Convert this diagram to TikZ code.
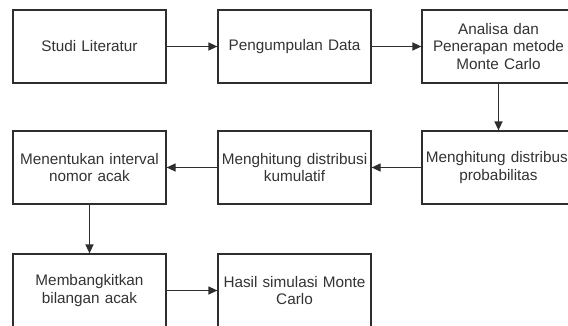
\documentclass[tikz,border=0pt]{standalone}
\usepackage{fontspec}
\setmainfont{Liberation Sans}
\usetikzlibrary{arrows.meta}
\definecolor{lineclr}{HTML}{2E2E2E}
\definecolor{txtclr}{HTML}{333333}
\tikzset{
  procbox/.style={draw=lineclr, line width=1.2pt, minimum width=153pt, minimum height=73pt,
    inner sep=1pt, align=center, text width=151pt, text=txtclr,
    font=\fontsize{15.3}{17.5}\selectfont},
  flow/.style={draw=lineclr, line width=1.2pt, -{Triangle[length=9pt,width=8pt]}}
}
\begin{document}
\begin{tikzpicture}[x=1pt,y=-1pt]
\useasboundingbox (0,0) rectangle (568,325);
\fill[white] (0,0) rectangle (568,325);
\clip (0,0) rectangle (568,325);
\node[procbox] (a) at (89.5,46.5) {Studi Literatur};
\node[procbox] (b) at (294.5,46.5) {Pengumpulan Data};
\node[procbox] (c) at (498.5,46.5) {Analisa dan\\Penerapan metode\\Monte Carlo};
\node[procbox] (d) at (498.5,167.5) {Menghitung distribusi\\probabilitas};
\node[procbox] (e) at (294.5,167.5) {Menghitung distribusi\\kumulatif};
\node[procbox] (f) at (89.5,167.5) {Menentukan interval\\nomor acak};
\node[procbox] (g) at (89.5,290.5) {Membangkitkan\\bilangan acak};
\node[procbox] (h) at (294.5,290.5) {Hasil simulasi Monte\\Carlo};
\draw[flow] (a) -- (b);
\draw[flow] (b) -- (c);
\draw[flow] (c) -- (d);
\draw[flow] (d) -- (e);
\draw[flow] (e) -- (f);
\draw[flow] (f) -- (g);
\draw[flow] (g) -- (h);
\end{tikzpicture}
\end{document}
